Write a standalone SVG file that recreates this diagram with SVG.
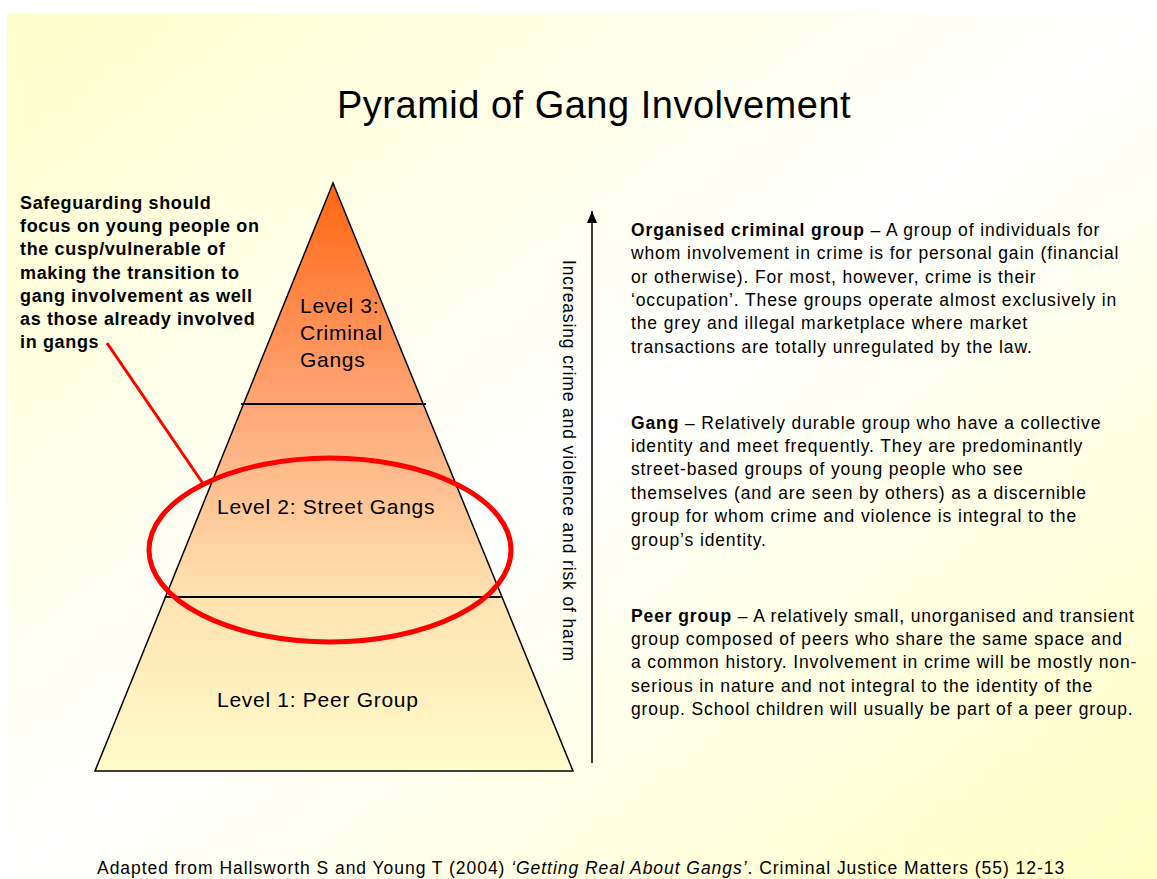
<svg xmlns="http://www.w3.org/2000/svg" width="1157" height="879" viewBox="0 0 1157 879">
<defs>
<linearGradient id="bg" x1="0" y1="0" x2="1" y2="1">
<stop offset="0" stop-color="#FFFFCC"/>
<stop offset="0.5" stop-color="#FFFFFF"/>
<stop offset="1" stop-color="#FFFFC4"/>
</linearGradient>
<linearGradient id="pyr" gradientUnits="userSpaceOnUse" x1="0" y1="183" x2="0" y2="771">
<stop offset="0" stop-color="#FF6611"/>
<stop offset="0.376" stop-color="#FFA677"/>
<stop offset="0.7" stop-color="#FFE2B2"/>
<stop offset="1" stop-color="#FFFCCB"/>
</linearGradient>
<marker id="ah" markerWidth="12" markerHeight="10" refX="12" refY="5" orient="auto" markerUnits="userSpaceOnUse" viewBox="0 0 12 10">
<path d="M0,0 L12,5 L0,10 Z" fill="#000"/>
</marker>
</defs>
<style>
.t{font-family:"Liberation Sans",Arial,sans-serif;fill:#000}
.body{font-size:17.5px;letter-spacing:0.87px}
.cite{letter-spacing:0.96px}
.note{font-size:18px;letter-spacing:0.65px;font-weight:bold}
.lvl{font-size:21px;letter-spacing:0.72px}
.b{font-weight:bold}
.seg{stroke:#000;stroke-width:1.5;fill:url(#pyr)}
.div{stroke:#000;stroke-width:2}
</style>
<rect x="0" y="0" width="1157" height="879" fill="#FFFFFF"/>
<rect x="7" y="13" width="1150" height="866" fill="url(#bg)"/>

<text class="t" x="337" y="118" font-size="38" letter-spacing="0.5">Pyramid of Gang Involvement</text>

<g id="level3">
<polygon class="seg" points="333,183 243.5,404 423.2,404"/>
<text class="t lvl" x="300" y="313">Level 3:</text>
<text class="t lvl" x="300" y="340">Criminal</text>
<text class="t lvl" x="300" y="367">Gangs</text>
</g>
<g id="level2">
<polygon class="seg" points="243.5,404 423.2,404 502,597 165.5,597"/>
<text class="t lvl" x="217" y="514">Level 2: Street Gangs</text>
</g>
<g id="level1">
<polygon class="seg" points="165.5,597 502,597 573,771 95,771"/>
<text class="t lvl" x="217" y="707">Level 1: Peer Group</text>
</g>
<g id="dividers">
<line class="div" x1="241" y1="404" x2="426" y2="404"/>
<line class="div" x1="168" y1="597" x2="500" y2="597"/>
</g>

<g id="highlight">
<ellipse cx="330" cy="550" rx="181" ry="92" fill="none" stroke="#FF0000" stroke-width="5"/>
</g>

<g id="note">
<text class="t note">
<tspan x="20" y="209">Safeguarding should</tspan>
<tspan x="20" y="232">focus on young people on</tspan>
<tspan x="20" y="255">the cusp/vulnerable of</tspan>
<tspan x="20" y="279">making the transition to</tspan>
<tspan x="20" y="302">gang involvement as well</tspan>
<tspan x="20" y="325">as those already involved</tspan>
<tspan x="20" y="348">in gangs</tspan>
</text>
</g>

<g id="connectors">
<line x1="107" y1="343" x2="204" y2="485" stroke="#FF0000" stroke-width="3"/>
<line x1="592" y1="763" x2="592" y2="211" stroke="#000" stroke-width="1.5" marker-end="url(#ah)"/>
</g>

<g id="axis-label">
<text class="t body" transform="translate(563,260) rotate(90)">Increasing crime and violence and risk of harm</text>
</g>

<g id="desc-organised">
<text class="t body">
<tspan x="631" y="236"><tspan class="b">Organised criminal group</tspan> – A group of individuals for</tspan>
<tspan x="631" y="259">whom involvement in crime is for personal gain (financial</tspan>
<tspan x="631" y="283">or otherwise). For most, however, crime is their</tspan>
<tspan x="631" y="306">‘occupation’. These groups operate almost exclusively in</tspan>
<tspan x="631" y="329">the grey and illegal marketplace where market</tspan>
<tspan x="631" y="353">transactions are totally unregulated by the law.</tspan>
</text>
</g>
<g id="desc-gang">
<text class="t body">
<tspan x="631" y="429"><tspan class="b">Gang</tspan> – Relatively durable group who have a collective</tspan>
<tspan x="631" y="452">identity and meet frequently. They are predominantly</tspan>
<tspan x="631" y="475">street-based groups of young people who see</tspan>
<tspan x="631" y="499">themselves (and are seen by others) as a discernible</tspan>
<tspan x="631" y="522">group for whom crime and violence is integral to the</tspan>
<tspan x="631" y="546">group’s identity.</tspan>
</text>
</g>
<g id="desc-peer">
<text class="t body">
<tspan x="631" y="622"><tspan class="b">Peer group</tspan> – A relatively small, unorganised and transient</tspan>
<tspan x="631" y="645">group composed of peers who share the same space and</tspan>
<tspan x="631" y="668">a common history. Involvement in crime will be mostly non-</tspan>
<tspan x="631" y="692">serious in nature and not integral to the identity of the</tspan>
<tspan x="631" y="715">group. School children will usually be part of a peer group.</tspan>
</text>
</g>

<text class="t body cite" x="97" y="874">Adapted from Hallsworth S and Young T (2004) <tspan font-style="italic">‘Getting Real About Gangs’</tspan>. Criminal Justice Matters (55) 12-13</text>
</svg>
